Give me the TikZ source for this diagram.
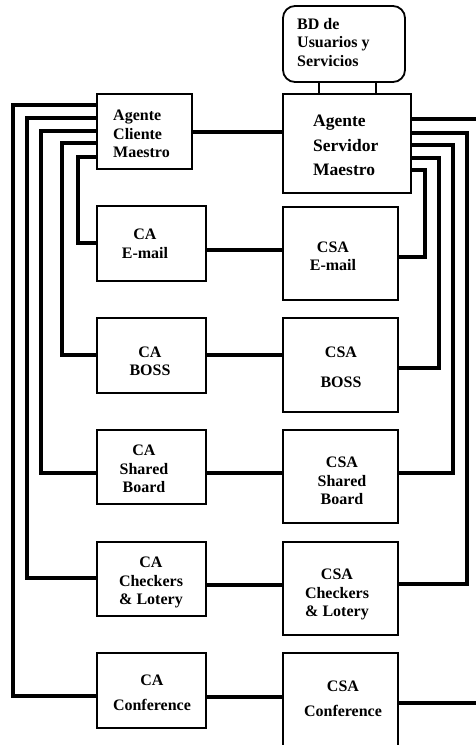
\documentclass[tikz,border=0pt]{standalone}
\usepackage{fontspec}
\setmainfont{Liberation Serif}
\begin{document}
\begin{tikzpicture}[x=1pt,y=-1pt,
  boxst/.style={draw, line width=1.8pt, inner sep=0pt},
  bus/.style={line width=3.2pt},
  thin/.style={line width=1.6pt},
  lab/.style={inner sep=0pt, anchor=north, align=center, font=\bfseries\fontsize{16}{18.5}\selectfont},
  labl/.style={inner sep=0pt, anchor=north west, align=left, font=\bfseries\fontsize{16}{18.5}\selectfont}]
\useasboundingbox (0,0) rectangle (475,745);
% boxes
\node[boxst, rounded corners=12pt, minimum width=122pt, minimum height=76pt] (bd) at (344,44) {};
\node[boxst, minimum width=95pt, minimum height=75pt] (acm) at (144.5,131.5) {};
\node[boxst, minimum width=128pt, minimum height=99pt] (asm) at (347,143.5) {};
\node[boxst, minimum width=109pt, minimum height=75pt] (cae) at (151.5,243.5) {};
\node[boxst, minimum width=115pt, minimum height=93pt] (csae) at (340.5,253.5) {};
\node[boxst, minimum width=109pt, minimum height=75pt] (cab) at (151.5,355.5) {};
\node[boxst, minimum width=115pt, minimum height=94pt] (csab) at (340.5,365) {};
\node[boxst, minimum width=109pt, minimum height=74pt] (cas) at (151.5,467) {};
\node[boxst, minimum width=115pt, minimum height=93pt] (csas) at (340.5,476.5) {};
\node[boxst, minimum width=109pt, minimum height=74pt] (cac) at (151.5,579) {};
\node[boxst, minimum width=115pt, minimum height=93pt] (csac) at (340.5,588.5) {};
\node[boxst, minimum width=109pt, minimum height=75pt] (caf) at (151.5,690.5) {};
\node[boxst, minimum width=115pt, minimum height=97pt] (csaf) at (340.5,701.5) {};
% texts
\node[labl] (tbd) at (297,18) {BD de\\Usuarios y\\Servicios};
\node[labl] (tacm) at (113,110) {Agente\\Cliente\\Maestro};
\node[labl, font=\bfseries\fontsize{17.5}{24.5}\selectfont] (tasm) at (313,115) {Agente\\Servidor\\Maestro};
\node[lab, font=\bfseries\fontsize{16}{19}\selectfont] (tcae) at (145,229) {CA\\E-mail};
\node[lab, font=\bfseries\fontsize{16}{18}\selectfont] (tcsae) at (333,242) {CSA\\E-mail};
\node[lab, font=\bfseries\fontsize{16}{18}\selectfont] (tcab) at (150,347) {CA\\BOSS};
\node[lab, font=\bfseries\fontsize{16}{30}\selectfont] (tcsab) at (341,347) {CSA\\BOSS};
\node[lab] (tcas) at (144,445) {CA\\Shared\\Board};
\node[lab] (tcsas) at (342,457) {CSA\\Shared\\Board};
\node[lab] (tcac) at (151,557) {CA\\Checkers\\\& Lotery};
\node[lab] (tcsac) at (337,569) {CSA\\Checkers\\\& Lotery};
\node[lab, font=\bfseries\fontsize{16}{25}\selectfont] (tcaf) at (152,675) {CA\\Conference};
\node[lab, font=\bfseries\fontsize{16}{25}\selectfont] (tcsaf) at (343,681) {CSA\\Conference};
% BD to ASM
\draw[thin] (bd.south -| 319,0) -- (asm.north -| 319,0);
\draw[thin] (bd.south -| 376,0) -- (asm.north -| 376,0);
% horizontal pairs
\draw[bus] (acm.east |- 0,132) -- (asm.west |- 0,132);
\draw[bus] (cae.east |- 0,250) -- (csae.west |- 0,250);
\draw[bus] (cab.east |- 0,355) -- (csab.west |- 0,355);
\draw[bus] (cas.east |- 0,473) -- (csas.west |- 0,473);
\draw[bus] (cac.east |- 0,585) -- (csac.west |- 0,585);
\draw[bus] (caf.east |- 0,697) -- (csaf.west |- 0,697);
% left buses
\draw[bus] (acm.west |- 0,105) -| (13,696) -- (caf.west |- 0,696);
\draw[bus] (acm.west |- 0,118) -| (27,578) -- (cac.west |- 0,578);
\draw[bus] (acm.west |- 0,131) -| (41,473) -- (cas.west |- 0,473);
\draw[bus] (acm.west |- 0,143) -| (62,355) -- (cab.west |- 0,355);
\draw[bus] (acm.west |- 0,157) -| (78,243) -- (cae.west |- 0,243);
% right buses
\draw[bus] (asm.east |- 0,119) -| (480,703) -- (csaf.east |- 0,703);
\draw[bus] (asm.east |- 0,133) -| (467,584) -- (csac.east |- 0,584);
\draw[bus] (asm.east |- 0,145) -| (453,473) -- (csas.east |- 0,473);
\draw[bus] (asm.east |- 0,158) -| (439,368) -- (csab.east |- 0,368);
\draw[bus] (asm.east |- 0,170) -| (425,257) -- (csae.east |- 0,257);
\end{tikzpicture}
\end{document}
